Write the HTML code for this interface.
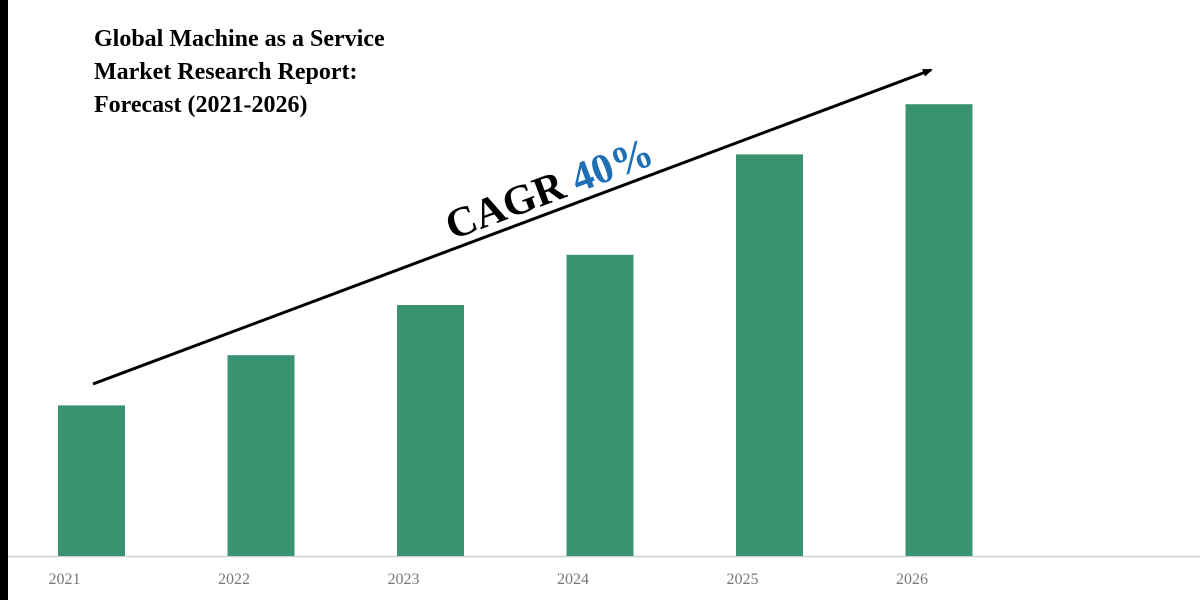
<!DOCTYPE html>
<html><head><meta charset="utf-8"><style>
html,body{margin:0;padding:0;background:#fff;}
svg{display:block;}
</style></head><body>
<svg id="chart" width="1200" height="600" xmlns="http://www.w3.org/2000/svg">
<rect x="0" y="0" width="1200" height="600" fill="#fff"/>
<rect x="0" y="0" width="8" height="600" fill="#000"/>
<g font-family="'Liberation Serif', serif" font-weight="bold" font-size="24" fill="#000">
<text x="94" y="46">Global Machine as a Service</text>
<text x="94" y="79">Market Research Report:</text>
<text x="94" y="112">Forecast (2021-2026)</text>
</g>
<line x1="8" y1="556.5" x2="1200" y2="556.5" stroke="#d0d0d0" stroke-width="1.5"/>
<g id="bars"></g>
<g id="labels"></g>
<defs><marker id="ah" markerWidth="10" markerHeight="8" refX="8" refY="4" orient="auto" markerUnits="userSpaceOnUse"><path d="M0,0 L10,4 L0,8 z" fill="#000"/></marker></defs>
<line x1="93" y1="384" x2="931" y2="70" stroke="#000" stroke-width="3" marker-end="url(#ah)"/>
<text transform="translate(452,240) rotate(-20.6)" font-family="'Liberation Serif', serif" font-weight="bold" font-size="42"><tspan fill="#000">CAGR </tspan><tspan fill="#1f6fb5">40%</tspan></text>
</svg>
<script>
const categories = ["2021","2022","2023","2024","2025","2026"];
const values = [1.5, 2.0, 2.5, 3.0, 4.0, 4.5];
const baseY = 556, pxPerUnit = 100.4, x0 = 58, step = 169.5, barW = 67;
function xPos(i){ return x0 + i*step; }
function yPos(v){ return baseY - v*pxPerUnit; }
const NS = "http://www.w3.org/2000/svg";
const bars = document.getElementById('bars');
const labels = document.getElementById('labels');
values.forEach((v,i)=>{
  const r = document.createElementNS(NS,'rect');
  r.setAttribute('x', xPos(i));
  r.setAttribute('y', yPos(v));
  r.setAttribute('width', barW);
  r.setAttribute('height', baseY - yPos(v));
  r.setAttribute('fill', '#3a9370');
  
  
  bars.appendChild(r);
  const t = document.createElementNS(NS,'text');
  t.setAttribute('x', xPos(i) + barW/2 - 27);
  t.setAttribute('y', 584);
  t.setAttribute('text-anchor', 'middle');
  t.setAttribute('font-family', "'Liberation Serif', serif");
  t.setAttribute('font-size', '16');
  t.setAttribute('fill', '#777');
  t.textContent = categories[i];
  
  
  labels.appendChild(t);
});
</script>
</body></html>
